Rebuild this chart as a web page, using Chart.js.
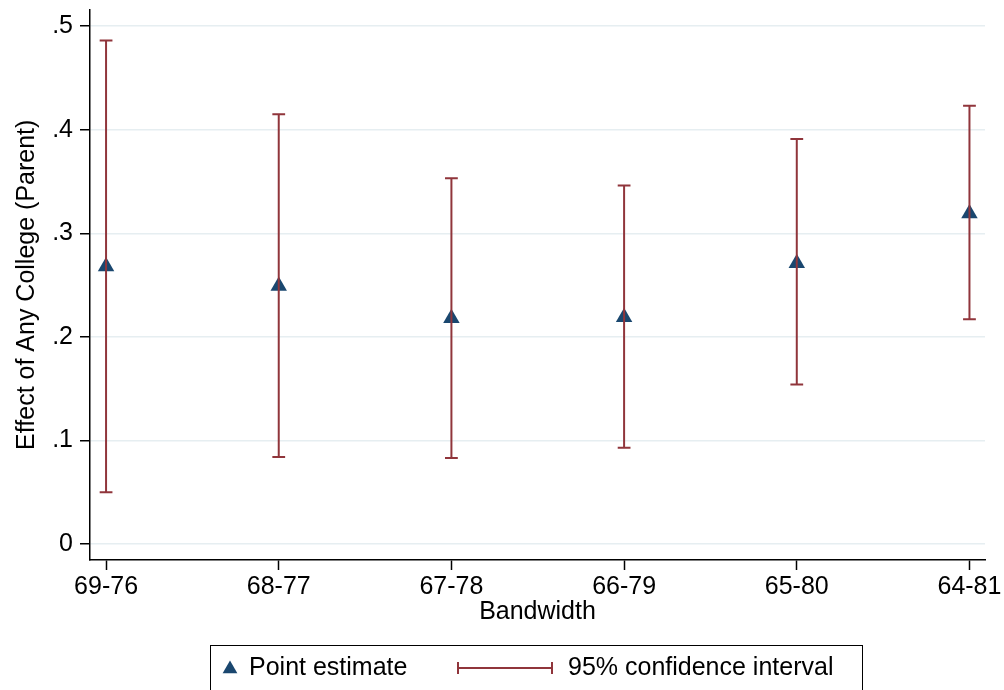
<!DOCTYPE html>
<html><head><meta charset="utf-8">
<script src="https://cdn.jsdelivr.net/npm/chart.js@4.4.1/dist/chart.umd.min.js"></script>
<style>html,body{margin:0;padding:0;background:#fff;} canvas{display:block;}</style>
</head><body>
<canvas id="c" width="1004" height="690"></canvas>
<script>
const categories = ['69-76', '68-77', '67-78', '66-79', '65-80', '64-81'];
const pointEstimate = [0.268, 0.249, 0.218, 0.219, 0.271, 0.319];
const ciLower = [0.050, 0.084, 0.083, 0.093, 0.154, 0.217];
const ciUpper = [0.486, 0.415, 0.353, 0.346, 0.391, 0.423];
const yTicks = [0, 0.1, 0.2, 0.3, 0.4, 0.5];
const yTickLabels = ['0', '.1', '.2', '.3', '.4', '.5'];
const seriesLabels = ['Point estimate', '95% confidence interval'];
const xTitle = 'Bandwidth';
const yTitle = 'Effect of Any College (Parent)';

const NAVY = '#1a476f';
const MAROON = '#90353b';
const GRID = '#e6eef1';
const FONT = '"Liberation Sans", Arial, sans-serif';
const CAP = 0.037; // half cap width in category units (style)

const pointData = categories.map((c, i) => ({x: i, y: pointEstimate[i]}));
const ciData = [];
categories.forEach((c, i) => {
  ciData.push({x: i, y: ciLower[i]}, {x: i, y: ciUpper[i]}, {x: i, y: null});
  ciData.push({x: i - CAP, y: ciUpper[i]}, {x: i + CAP, y: ciUpper[i]}, {x: i, y: null});
  ciData.push({x: i - CAP, y: ciLower[i]}, {x: i + CAP, y: ciLower[i]}, {x: i, y: null});
});

const legendPlugin = {
  id: 'stataLegend',
  afterDraw(chart) {
    const ctx = chart.ctx;
    ctx.save();
    ctx.strokeStyle = '#000';
    ctx.lineWidth = 1;
    ctx.strokeRect(210.5, 645.5, 652, 60);
    const cy = 668;
    ctx.fillStyle = NAVY;
    Chart.helpers.drawPoint(ctx, {pointStyle: 'triangle', radius: 8.5, rotation: 0, borderWidth: 0}, 230, cy + 1);
    ctx.fillStyle = '#000';
    ctx.font = '25px ' + FONT;
    ctx.textBaseline = 'middle';
    ctx.textAlign = 'left';
    ctx.fillText(chart.data.datasets[0].label, 249, cy);
    ctx.strokeStyle = MAROON;
    ctx.lineWidth = 2;
    ctx.beginPath();
    ctx.moveTo(457, cy); ctx.lineTo(553, cy);
    ctx.moveTo(458, cy - 6); ctx.lineTo(458, cy + 6);
    ctx.moveTo(552, cy - 6); ctx.lineTo(552, cy + 6);
    ctx.stroke();
    ctx.fillStyle = '#000';
    ctx.fillText(chart.data.datasets[1].label, 568, cy);
    ctx.restore();
  }
};

new Chart(document.getElementById('c'), {
  type: 'scatter',
  data: {
    datasets: [
      {
        label: seriesLabels[0],
        data: pointData,
        pointStyle: 'triangle',
        pointRadius: 9.5,
        pointHoverRadius: 9.5,
        backgroundColor: NAVY,
        borderColor: NAVY,
        borderWidth: 0,
        showLine: false,
        order: 1
      },
      {
        label: seriesLabels[1],
        data: ciData,
        showLine: true,
        spanGaps: false,
        borderColor: MAROON,
        borderWidth: 2,
        pointRadius: 0,
        pointHoverRadius: 0,
        order: 0
      }
    ]
  },
  options: {
    responsive: false,
    animation: false,
    devicePixelRatio: 1,
    layout: {padding: {top: 7, right: 19, left: 0, bottom: 0}},
    plugins: {legend: {display: false}, tooltip: {enabled: false}},
    scales: {
      x: {
        type: 'linear',
        min: -0.093,
        max: 5.09,
        afterBuildTicks: s => { s.ticks = categories.map((c, i) => ({value: i})); },
        afterFit: s => { s.height = 130; s.paddingLeft = 0; s.paddingRight = 0; },
        ticks: {
          callback: v => categories[v],
          font: {family: FONT, size: 25},
          color: '#000',
          padding: 2,
          maxRotation: 0,
          autoSkip: false
        },
        grid: {drawOnChartArea: false, tickLength: 10, tickColor: '#000', tickWidth: 1.5},
        border: {color: '#000', width: 1.5},
        title: {display: true, text: xTitle, font: {family: FONT, size: 25}, color: '#000', padding: {top: 63, bottom: 63}}
      },
      y: {
        type: 'linear',
        min: -0.0154,
        max: 0.516,
        afterBuildTicks: s => { s.ticks = yTicks.map(v => ({value: v})); },
        afterFit: s => { s.width = 90; s.paddingTop = 0; s.paddingBottom = 0; },
        ticks: {
          callback: (v, i) => yTickLabels[yTicks.indexOf(v)],
          font: {family: FONT, size: 25},
          color: '#000',
          padding: 7
        },
        grid: {color: GRID, lineWidth: 1.5, tickLength: 10, tickColor: '#000', tickWidth: 1.5},
        border: {color: '#000', width: 1.5},
        title: {display: true, text: yTitle, font: {family: FONT, size: 25}, color: '#000', padding: {top: 12, bottom: 12}}
      }
    }
  },
  plugins: [legendPlugin]
});
</script>
</body></html>
